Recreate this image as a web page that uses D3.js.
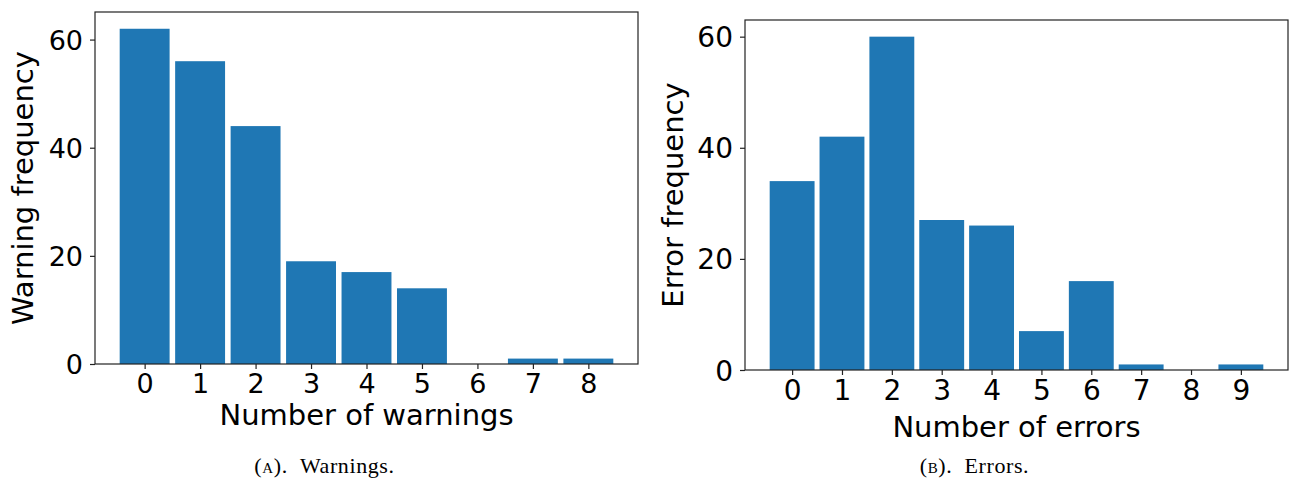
<!DOCTYPE html>
<html>
<head>
<meta charset="utf-8">
<script src="https://cdn.jsdelivr.net/npm/d3@7"></script>
<style>
  body { margin: 0; background: #fff; }
  svg { display: block; }
  .tick text { font-family: "DejaVu Sans", sans-serif; }
</style>
</head>
<body>
<svg id="chart" width="1291" height="480"></svg>
<script>
// warnings panel
const warnCats = [0, 1, 2, 3, 4, 5, 6, 7, 8];
const warnValues = [62, 56, 44, 19, 17, 14, 0, 1, 1];
const warnTicks = [0, 20, 40, 60];

// errors panel
const errCats = [0, 1, 2, 3, 4, 5, 6, 7, 8, 9];
const errValues = [34, 42, 60, 27, 26, 7, 16, 1, 0, 1];
const errTicks = [0, 20, 40, 60];

const svg = d3.select('#chart');
const barColor = '#1f77b4';

function panel(opts) {
  const { cats, values, ticks, left, right, top, bottom, xLabel, yLabel, caption, capY, xLabOff, tickFs } = opts;
  const g = svg.append('g');

  // matplotlib style: bars of width 0.9, 5% margins
  const pad = 0.45 + (cats.length - 1 + 0.9) * 0.05;
  const x = d3.scaleLinear()
    .domain([cats[0] - pad, cats[cats.length - 1] + pad])
    .range([left, right]);
  const y = d3.scaleLinear()
    .domain([0, d3.max(values) * 1.05])
    .range([bottom, top]);

  g.selectAll('rect.bar')
    .data(values)
    .enter()
    .append('rect')
    .attr('class', 'bar')
    .attr('x', (d, i) => x(cats[i] - 0.45))
    .attr('width', (d, i) => x(cats[i] + 0.45) - x(cats[i] - 0.45))
    .attr('y', d => y(d))
    .attr('height', d => y(0) - y(d))
    .attr('fill', barColor);

  // frame
  g.append('rect')
    .attr('x', left).attr('y', top)
    .attr('width', right - left).attr('height', bottom - top)
    .attr('fill', 'none').attr('stroke', '#222').attr('stroke-width', 1.2);

  const xAxis = g.append('g')
    .attr('transform', `translate(0,${bottom})`)
    .call(d3.axisBottom(x).tickValues(cats).tickFormat(d3.format('d')).tickSize(5).tickPadding(5));
  const yAxis = g.append('g')
    .attr('transform', `translate(${left},0)`)
    .call(d3.axisLeft(y).tickValues(ticks).tickFormat(d3.format('d')).tickSize(5).tickPadding(7));

  [xAxis, yAxis].forEach(a => {
    a.select('.domain').remove();
    a.selectAll('.tick line').attr('stroke', '#222').attr('stroke-width', 1.2);
    a.selectAll('.tick text').attr('fill', '#000').style('font-size', tickFs + 'px');
  });
  yAxis.selectAll('.tick text').attr('dy', '0.36em');

  g.append('text')
    .attr('x', (left + right) / 2)
    .attr('y', bottom + xLabOff)
    .attr('text-anchor', 'middle')
    .style('font-family', '"DejaVu Sans", sans-serif')
    .style('font-size', '29px')
    .text(xLabel);

  g.append('text')
    .attr('transform', `translate(${left - 62},${(top + bottom) / 2}) rotate(-90)`)
    .attr('text-anchor', 'middle')
    .style('font-family', '"DejaVu Sans", sans-serif')
    .style('font-size', '29px')
    .text(yLabel);

  // caption under the subfigure
  const cap = g.append('text')
    .attr('x', (left + right) / 2 - 42)
    .attr('y', capY)
    .attr('text-anchor', 'middle')
    .style('font-family', '"Liberation Serif", serif')
    .style('font-size', '22px')
    .style('letter-spacing', '0.6px');
  cap.append('tspan').text('(');
  cap.append('tspan').style('font-variant', 'small-caps').text(caption[0]);
  cap.append('tspan').text(').\u00a0\u00a0' + caption[1]);
}

panel({
  cats: warnCats, values: warnValues, ticks: warnTicks,
  left: 95, right: 638, top: 12, bottom: 364,
  xLabel: 'Number of warnings', yLabel: 'Warning frequency',
  caption: ['a', 'Warnings.'], capY: 473, xLabOff: 61, tickFs: 27
});

panel({
  cats: errCats, values: errValues, ticks: errTicks,
  left: 745, right: 1288, top: 20, bottom: 370,
  xLabel: 'Number of errors', yLabel: 'Error frequency',
  caption: ['b', 'Errors.'], capY: 473, xLabOff: 67, tickFs: 28
});
</script>
</body>
</html>
